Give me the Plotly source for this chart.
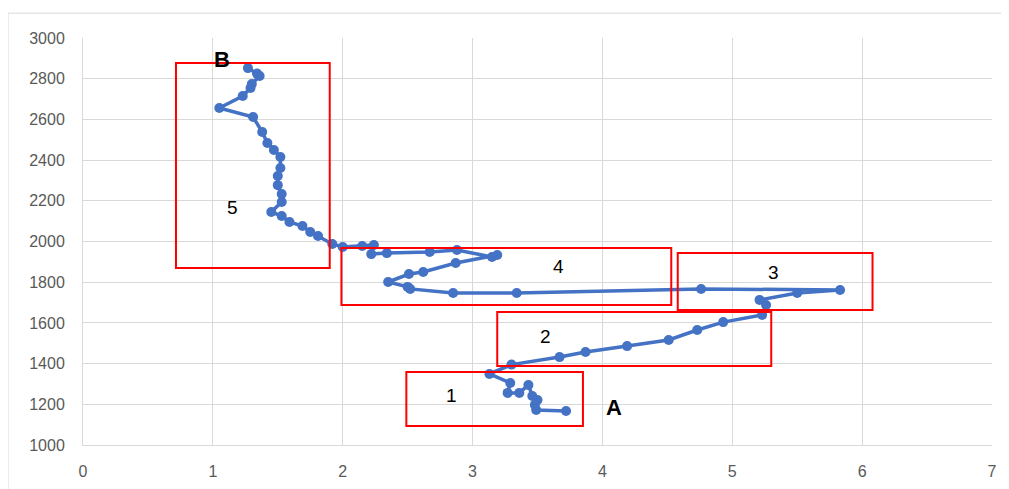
import plotly.graph_objects as go

# Path data from A to B
x_vals = [3.72, 3.49, 3.48, 3.50, 3.46, 3.43, 3.36, 3.27, 3.29, 3.13,
          3.30, 3.67, 3.87, 4.19, 4.51, 4.73, 4.93, 5.23, 5.26, 5.21,
          5.50, 5.83, 4.76, 3.34, 2.85, 2.52, 2.50, 2.35, 2.51, 2.62,
          2.87, 3.19, 3.15, 2.88, 2.67, 2.34, 2.22, 2.24, 2.15, 2.00,
          1.92, 1.81, 1.75, 1.69, 1.59, 1.53, 1.45, 1.53, 1.53, 1.50,
          1.50, 1.52, 1.52, 1.47, 1.42, 1.38, 1.31, 1.05, 1.23, 1.29,
          1.30, 1.36, 1.34, 1.27]
y_vals = [1167, 1172, 1197, 1221, 1241, 1295, 1256, 1256, 1305, 1349,
          1395, 1432, 1457, 1486, 1516, 1565, 1604, 1639, 1688, 1713,
          1747, 1762, 1767, 1747, 1747, 1767, 1777, 1801, 1840, 1850,
          1894, 1934, 1924, 1958, 1948, 1943, 1938, 1983, 1978, 1973,
          1988, 2027, 2047, 2076, 2096, 2125, 2145, 2194, 2233, 2277,
          2322, 2361, 2415, 2450, 2484, 2538, 2612, 2656, 2715, 2754,
          2774, 2813, 2825, 2852]

# Region boxes (x0, x1, y0, y1) and labels
box_x0 = [2.49, 3.19, 4.58, 1.99, 0.716]
box_x1 = [3.85, 5.30, 6.08, 4.53, 1.90]
box_y0 = [1093, 1388, 1663, 1688, 1870]
box_y1 = [1359, 1654, 1943, 1968, 2877]
box_labels = ["1", "2", "3", "4", "5"]
label_x = [2.84, 3.56, 5.32, 3.66, 1.15]
label_y = [1241, 1531, 1850, 1875, 2165]

end_labels = ["A", "B"]
end_x = [4.09, 1.07]
end_y = [1183, 2893]

x_ticks = [0, 1, 2, 3, 4, 5, 6, 7]
y_ticks = [1000, 1200, 1400, 1600, 1800, 2000, 2200, 2400, 2600, 2800, 3000]

fig = go.Figure()
fig.add_trace(go.Scatter(
    x=x_vals, y=y_vals, mode="lines+markers",
    line=dict(color="#4472C4", width=3.5),
    marker=dict(color="#4472C4", size=10),
    showlegend=False,
))

for i in range(len(box_labels)):
    fig.add_shape(type="rect", xref="x", yref="y",
                  x0=box_x0[i], x1=box_x1[i], y0=box_y0[i], y1=box_y1[i],
                  line=dict(color="#FF0000", width=2), fillcolor="rgba(0,0,0,0)")
    fig.add_annotation(x=label_x[i], y=label_y[i], text=box_labels[i],
                       showarrow=False, font=dict(size=19, color="#000000",
                                                  family="Liberation Sans"))

for i in range(len(end_labels)):
    fig.add_annotation(x=end_x[i], y=end_y[i], text="<b>" + end_labels[i] + "</b>",
                       showarrow=False, font=dict(size=22, color="#000000",
                                                  family="Liberation Sans"))

# outer chart frame
fig.add_shape(type="rect", xref="paper", yref="paper",
              x0=-0.0825, x1=1.05, y0=-0.2, y1=1.061,
              line=dict(color="#D9D9D9", width=1), layer="below")

fig.update_layout(
    width=1009, height=489,
    margin=dict(l=75, r=25, t=30, b=52),
    paper_bgcolor="white", plot_bgcolor="white",
    font=dict(family="Liberation Sans", size=15, color="#595959"),
)
fig.update_xaxes(range=[0, 7], tickvals=x_ticks, showgrid=True, gridcolor="#D9D9D9",
                 gridwidth=1, zeroline=False, showline=True, linecolor="#D9D9D9",
                 ticks="", ticklabelstandoff=12,
                 tickfont=dict(size=16, color="#595959"))
fig.update_yaxes(range=[1000, 3000], tickvals=y_ticks, showgrid=True, gridcolor="#D9D9D9",
                 gridwidth=1, zeroline=False, showline=True, linecolor="#D9D9D9",
                 ticks="", ticklabelstandoff=14,
                 tickfont=dict(size=16, color="#595959"))

fig.write_html("out.html")
